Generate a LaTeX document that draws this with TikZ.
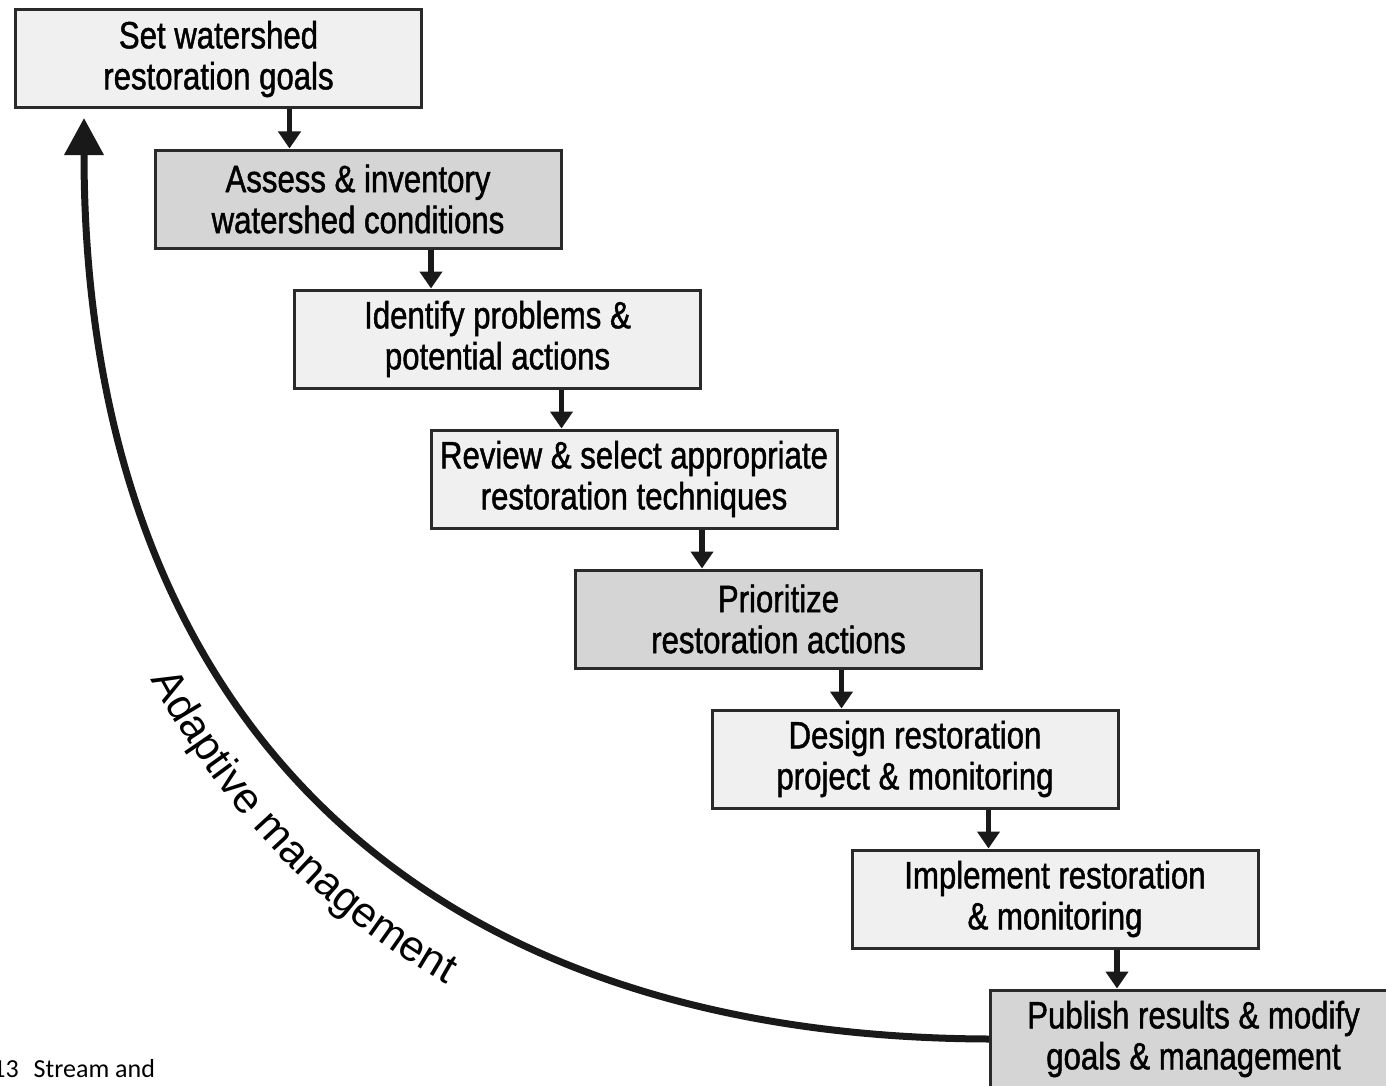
\documentclass[tikz,border=0pt]{standalone}
\usepackage{fontspec}
\setmainfont{Liberation Sans}
\newfontfamily\boxfamily[FakeStretch=0.82,FakeBold=1.2]{Liberation Sans}
\newfontfamily\capfamily{Carlito}
\usetikzlibrary{arrows.meta,decorations.text}
\definecolor{lightbox}{HTML}{F1F0F0}
\definecolor{darkbox}{HTML}{D6D5D5}
\definecolor{edge}{HTML}{2A2A2A}
\tikzset{
  stepbox/.style={draw=edge, line width=1.5pt, minimum width=203pt, minimum height=49pt,
    align=center, inner sep=0pt, font=\boxfamily\fontsize{19}{20.5}\selectfont},
  lightstep/.style={stepbox, fill=lightbox},
  darkstep/.style={stepbox, fill=darkbox},
  flow/.style={draw=black!90, line width=2.6pt, -{Triangle[width=11pt,length=8.5pt]}},
  loopback/.style={draw=black!90, line width=3.5pt, -{Triangle[width=19pt,length=18.5pt]}},
}
\begin{document}
\begin{tikzpicture}[x=0.5pt,y=-0.5pt]
\useasboundingbox (0,0) rectangle (1386,1086);
\fill[white] (0,0) rectangle (1386,1086);

\node[lightstep] (b1) at (218.5,59)  {Set watershed\\restoration goals};
\node[darkstep]  (b2) at (358,199)   {Assess \& inventory\\watershed conditions};
\node[lightstep] (b3) at (497.5,339) {Identify problems \&\\potential actions};
\node[lightstep] (b4) at (634,479)   {Review \& select appropriate\\restoration techniques};
\node[darkstep]  (b5) at (778.5,619) {Prioritize\\restoration actions};
\node[lightstep] (b6) at (915,759)   {Design restoration\\project \& monitoring};
\node[lightstep] (b7) at (1055,899)  {Implement restoration\\\& monitoring};
\node[darkstep]  (b8) at (1193.5,1039) {Publish results \& modify\\goals \& management};

\draw[flow] ([xshift=68pt]b2.north west |- b1.south) -- ([xshift=68pt]b2.north west);
\draw[flow] ([xshift=69pt]b3.north west |- b2.south) -- ([xshift=69pt]b3.north west);
\draw[flow] ([xshift=66pt]b4.north west |- b3.south) -- ([xshift=66pt]b4.north west);
\draw[flow] ([xshift=64pt]b5.north west |- b4.south) -- ([xshift=64pt]b5.north west);
\draw[flow] ([xshift=65.5pt]b6.north west |- b5.south) -- ([xshift=65.5pt]b6.north west);
\draw[flow] ([xshift=69pt]b7.north west |- b6.south) -- ([xshift=69pt]b7.north west);
\draw[flow] ([xshift=64pt]b8.north west |- b7.south) -- ([xshift=64pt]b8.north west);

\coordinate (looptip) at (84,118);
\draw[loopback] (b8.west) .. controls (400,1037) and (84,700) .. (looptip);

\path[decorate, decoration={text along path, text align={left indent=290pt},
  text={|\fontsize{21.5}{25}\selectfont|Adaptive management}}]
  (29,118) .. controls (29,745) and (360,1112) .. (990,1106);

\node[anchor=base west, inner sep=0pt, font=\capfamily\fontsize{13}{15}\selectfont] (cap) at (-8,1077) {13\hspace{7.5pt}Stream and};
\end{tikzpicture}
\end{document}
